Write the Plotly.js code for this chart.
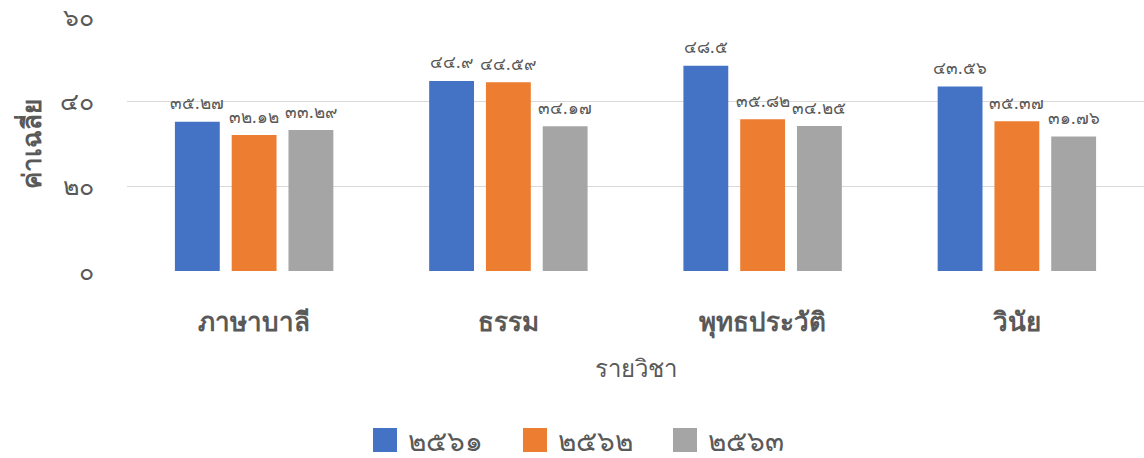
<!DOCTYPE html>
<html>
<head>
<meta charset="utf-8">
<script src="https://cdn.plot.ly/plotly-3.0.1.min.js"></script>
<style>html,body{margin:0;padding:0;background:#fff}#chart{width:1144px;height:458px}</style>
</head>
<body>
<div id="chart"></div>
<script>
const categories = ["ภาษาบาลี", "ธรรม", "พุทธประวัติ", "วินัย"];
const seriesNames = ["๒๕๖๑", "๒๕๖๒", "๒๕๖๓"];
const values2561 = [35.27, 44.9, 48.5, 43.56];
const values2562 = [32.12, 44.59, 35.82, 35.37];
const values2563 = [33.29, 34.17, 34.25, 31.76];
const yTickVals = [0, 20, 40, 60];
const colors = ["#4472C4", "#ED7D31", "#A5A5A5"];

const thaiDigits = "๐๑๒๓๔๕๖๗๘๙";
function toThai(v) {
  return String(v).replace(/[0-9]/g, d => thaiDigits[+d]);
}

const FONT = "Tahoma, 'Noto Sans', sans-serif";
const seriesValues = [values2561, values2562, values2563];

const traces = seriesValues.map((vals, i) => ({
  type: "bar",
  name: seriesNames[i],
  x: categories,
  y: vals,
  marker: { color: colors[i] },
  showlegend: false,
  hoverinfo: "skip"
}));

// plot area geometry (pixels)
const W = 1144, H = 458;
const M = { l: 127, r: 0, t: 17, b: 187 };
const pw = W - M.l - M.r, ph = H - M.t - M.b;
const px2paperX = p => (p - M.l) / pw;
const px2paperY = p => (H - M.b - p) / ph;

// data labels as annotations, positioned through the category axis
const slot = (1 - 0.33) / 3;
const annotations = [];
seriesValues.forEach((vals, i) => {
  vals.forEach((v, j) => {
    annotations.push({
      x: j + (i - 1) * slot,
      y: v,
      xref: "x",
      yref: "y",
      text: toThai(v),
      showarrow: false,
      yshift: 19,
      font: { family: FONT, size: 17, color: "#595959" }
    });
  });
});

// custom legend (large swatches like the reference)
const shapes = [];
const legendLeft = 373, legendStep = 150, swatch = 24, legendCY = 440;
seriesNames.forEach((name, i) => {
  const x0 = legendLeft + i * legendStep;
  shapes.push({
    type: "rect",
    xref: "paper", yref: "paper",
    x0: px2paperX(x0), x1: px2paperX(x0 + swatch),
    y0: px2paperY(legendCY + swatch / 2), y1: px2paperY(legendCY - swatch / 2),
    fillcolor: colors[i],
    line: { width: 0 }
  });
  annotations.push({
    xref: "paper", yref: "paper",
    x: px2paperX(x0 + 33),
    y: px2paperY(legendCY),
    xanchor: "left",
    yanchor: "middle",
    text: name,
    showarrow: false,
    font: { family: FONT, size: 28, color: "#595959" }
  });
});

const layout = {
  width: W,
  height: H,
  margin: M,
  paper_bgcolor: "#ffffff",
  plot_bgcolor: "#ffffff",
  barmode: "group",
  bargap: 0.33,
  bargroupgap: 0.21,
  showlegend: false,
  xaxis: {
    type: "category",
    tickfont: { family: FONT, size: 26, color: "#595959", weight: "bold" },
    ticks: "",
    showline: false,
    showgrid: false,
    ticklabelstandoff: 33,
    title: {
      text: "รายวิชา",
      font: { family: FONT, size: 24, color: "#595959" },
      standoff: 22
    }
  },
  yaxis: {
    range: [0, 60],
    tickvals: yTickVals,
    ticktext: yTickVals.map(toThai),
    tickfont: { family: FONT, size: 25, color: "#595959" },
    ticklabeloverflow: "allow",
    gridcolor: "#D9D9D9",
    gridwidth: 1,
    zeroline: false,
    showline: false,
    ticks: "",
    ticklabelstandoff: 32,
    title: {
      text: "ค่าเฉลี่ย",
      font: { family: FONT, size: 26, color: "#595959", weight: "bold" },
      standoff: 10
    }
  },
  shapes: shapes,
  annotations: annotations
};

Plotly.newPlot("chart", traces, layout, { displayModeBar: false, staticPlot: true });
</script>
</body>
</html>
